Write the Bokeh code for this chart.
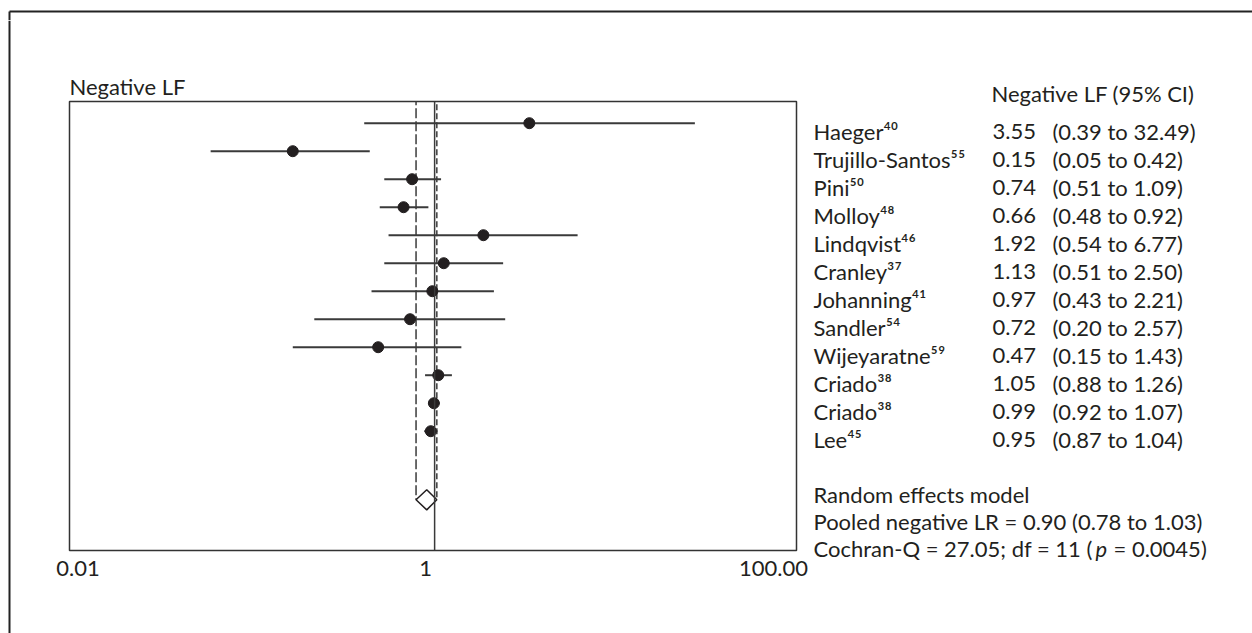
from bokeh.plotting import figure
from bokeh.layouts import column, row
from bokeh.models import (ColumnDataSource, Range1d, LogScale, LogAxis, FixedTicker, Span)
from bokeh.embed import file_html
from bokeh.resources import INLINE
from bokeh.core.properties import value

# ---- data: negative likelihood ratios with 95% CI ----
studies = ["Haeger", "Trujillo-Santos", "Pini", "Molloy", "Lindqvist", "Cranley",
           "Johanning", "Sandler", "Wijeyaratne", "Criado", "Criado", "Lee"]
refs = ["40", "55", "50", "48", "46", "37", "41", "54", "59", "38", "38", "45"]
neg_lr = [3.55, 0.15, 0.74, 0.66, 1.92, 1.13, 0.97, 0.72, 0.47, 1.05, 0.99, 0.95]
ci_low = [0.39, 0.05, 0.51, 0.48, 0.54, 0.51, 0.43, 0.20, 0.15, 0.88, 0.92, 0.87]
ci_high = [32.49, 0.42, 1.09, 0.92, 6.77, 2.50, 2.21, 2.57, 1.43, 1.26, 1.07, 1.04]

pooled_lr = 0.90
pooled_low = 0.78
pooled_high = 1.03
cochran_q = 27.05
q_df = 11
q_p = "0.0045"

tick_values = [0.01, 1, 100]
tick_labels = ["0.01", "1", "100.00"]

# ---- styling ----
INK = "#231f20"
LINE = "#3a3a3a"
FRAME = "#222222"
FONT = "Lato"
FS = "22px"

sup = str.maketrans("0123456789", "⁰¹²³⁴⁵⁶⁷⁸⁹")
rows = list(range(1, len(studies) + 1))
pooled_row = 14.45
# shared row scale: main panel frame and text panel use the same rows-per-pixel
ROW_TOP, ROW_BOTTOM = 0.225, 16.26          # plot box edges
TXT_TOP, TXT_BOTTOM = -2.668, 19.225         # full height of the text panel

src = ColumnDataSource(dict(
    row=rows,
    lr=neg_lr,
    lo=ci_low,
    hi=ci_high,
    name=[s + r.translate(sup) for s, r in zip(studies, refs)],
    est=[f"{v:.2f}" for v in neg_lr],
    ci=[f"({a:.2f} to {b:.2f})" for a, b in zip(ci_low, ci_high)],
))


def no_align(fig):
    # keep each panel's own frame instead of lining frames up across the row
    if "frame_align" in fig.properties():
        fig.frame_align = False
    return fig


def bare(fig):
    fig.grid.visible = False
    fig.outline_line_color = None
    fig.min_border = 0
    return no_align(fig)


# ---- outer frame strips ----
top_strip = bare(figure(width=1252, height=20, output_backend="svg", toolbar_location=None,
                        x_axis_location=None, y_axis_location=None,
                        x_range=Range1d(0, 1252), y_range=Range1d(20, 0)))
top_strip.segment(x0=[9, 9], y0=[11, 11], x1=[1252, 9], y1=[11, 20],
                  line_color=FRAME, line_width=2)

left_strip = bare(figure(width=20, height=613, output_backend="svg", toolbar_location=None,
                         x_axis_location=None, y_axis_location=None,
                         x_range=Range1d(0, 20), y_range=Range1d(633, 20)))
left_strip.segment(x0=[9], y0=[20], x1=[9], y1=[633], line_color=FRAME, line_width=2)

# ---- forest plot ----
p = no_align(figure(width=792, height=613, output_backend="svg", toolbar_location=None,
                    x_axis_type="log", x_axis_location=None, y_axis_location=None,
                    x_range=Range1d(0.00757, 126.5), y_range=Range1d(ROW_BOTTOM, ROW_TOP),
                    title="Negative LF"))
p.grid.visible = False
p.min_border_left = 49
p.min_border_right = 16
p.min_border_top = 81
p.min_border_bottom = 83
p.outline_line_color = "#333333"
p.outline_line_width = 1.5
p.title.text_font = FONT
p.title.text_font_size = FS
p.title.text_font_style = "normal"
p.title.text_color = INK
p.title.align = "left"
p.title.offset = 0
p.title.standoff = 4

# tick labels on their own log range
p.extra_x_ranges = {"ticks": Range1d(0.008941, 135.5)}
p.extra_x_scales = {"ticks": LogScale()}
ax = LogAxis(x_range_name="ticks", ticker=FixedTicker(ticks=tick_values),
             major_label_overrides=dict(zip(tick_values, tick_labels)))
ax.axis_line_color = None
ax.major_tick_line_color = None
ax.minor_tick_line_color = None
ax.major_tick_in = 0
ax.major_tick_out = 0
ax.major_label_standoff = 10
ax.major_label_text_font = FONT
ax.major_label_text_font_size = FS
ax.major_label_text_color = INK
p.add_layout(ax, "below")

# line of no effect and pooled CI limits
p.add_layout(Span(location=1, dimension="height", line_color=LINE, line_width=1.5))
p.segment(x0=[pooled_low], y0=[0], x1=[pooled_low], y1=[pooled_row],
          line_color=LINE, line_width=1.5, line_dash="10 3")
p.segment(x0=[pooled_high], y0=[0], x1=[pooled_high], y1=[pooled_row],
          line_color=LINE, line_width=1.5, line_dash="6 3")

# study estimates
p.segment(x0="lo", y0="row", x1="hi", y1="row", source=src,
          line_color=LINE, line_width=2)
p.scatter(x="lr", y="row", source=src, size=11, fill_color=INK,
          line_color=INK, line_width=1)

# pooled diamond
p.patch(x=[pooled_low, pooled_lr, pooled_high, pooled_lr],
        y=[pooled_row, pooled_row - 0.36, pooled_row, pooled_row + 0.36],
        fill_color="white", line_color=INK, line_width=1.5)

# ---- text table ----
t = bare(figure(width=440, height=613, output_backend="svg", toolbar_location=None,
                x_axis_location=None, y_axis_location=None,
                x_range=Range1d(812, 1252), y_range=Range1d(TXT_BOTTOM, TXT_TOP)))
txt = dict(text_font=value(FONT), text_font_size=value(FS), text_color=INK,
           text_baseline="alphabetic")
t.text(x=813, y="row", text="name", source=src, y_offset=8, **txt)
t.text(x=992, y="row", text="est", source=src, y_offset=8, **txt)
t.text(x=1052, y="row", text="ci", source=src, y_offset=8, **txt)
t.text(x=[991], y=[0], text=["Negative LF (95% CI)"], y_offset=-2, **txt)

summary = ["Random effects model",
           f"Pooled negative LR = {pooled_lr:.2f} ({pooled_low:.2f} to {pooled_high:.2f})",
           f"Cochran-Q = {cochran_q:.2f}; df = {q_df} ("]
t.text(x=[813] * 3, y=[14.0, 14.98, 15.93], text=summary, y_offset=7.3, **txt)
t.text(x=[1095], y=[15.93], text=["p"], y_offset=7.3, text_font_style="italic", **txt)
t.text(x=[1113], y=[15.93], text=[f"= {q_p})"], y_offset=7.3, **txt)

layout = column(top_strip, row(left_strip, p, t))
open("out.html", "w").write(file_html(layout, INLINE))
